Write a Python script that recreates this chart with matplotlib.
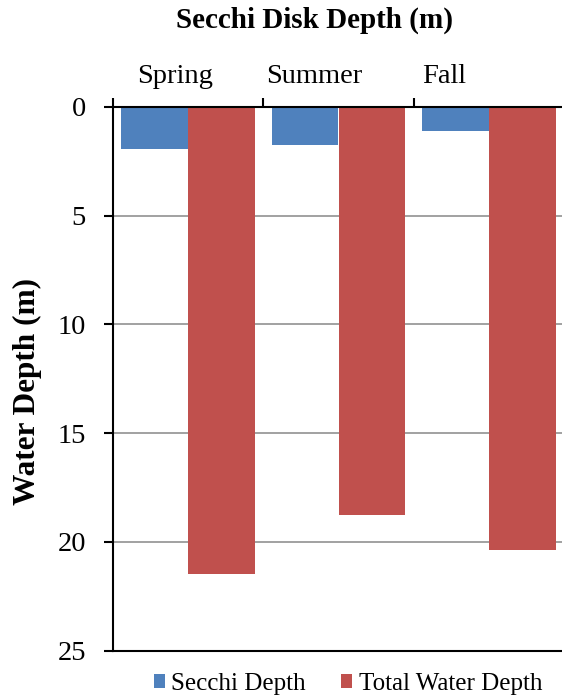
import numpy as np
import matplotlib.pyplot as plt

plt.rcParams['font.family'] = ['Liberation Serif', 'DejaVu Serif']

seasons = ['Spring', 'Summer', 'Fall']
secchi_depth = [1.94, 1.75, 1.12]
total_depth = [21.48, 18.77, 20.37]
# where the season names sit along the top axis (category units)
season_label_x = [-0.09, 0.84, 1.70]

blue = '#4F81BD'
red = '#C0504D'

fig = plt.figure(figsize=(5.62, 7.0), dpi=100)
ax = fig.add_axes([113 / 562, 1 - 650.5 / 700, 451 / 562, 543.5 / 700])

x = np.arange(len(seasons))
w = 0.444
ax.bar(x - w / 2, secchi_depth, width=w, color=blue, label='Secchi Depth', zorder=2)
ax.bar(x + w / 2, total_depth, width=w, color=red, label='Total Water Depth', zorder=2)

ax.set_ylim(25, 0)
ax.set_xlim(-0.5, len(seasons) - 0.5)
ax.set_yticks([0, 5, 10, 15, 20, 25])
ax.tick_params(axis='y', direction='out', length=6.5, width=1.5, labelsize=20.5, pad=13)
ax.yaxis.grid(True, color='#878787', linewidth=1.1, zorder=0)
ax.set_axisbelow(True)

# category axis on top, ticks between the groups
ax.xaxis.set_ticks_position('top')
ax.xaxis.set_label_position('top')
ax.set_xticks(np.arange(-0.5, len(seasons), 1.0))
ax.set_xticklabels([])
ax.set_xticks(season_label_x, minor=True)
ax.set_xticklabels(seasons, minor=True)
ax.tick_params(axis='x', which='major', direction='out', length=6.5, width=1.5)
ax.tick_params(axis='x', which='minor', length=0, labelsize=20.5, pad=13,
               top=True, bottom=False, labeltop=True, labelbottom=False)

for side in ['left', 'top', 'bottom']:
    ax.spines[side].set_linewidth(1.5)
ax.spines['right'].set_visible(False)

ax.set_ylabel('Water Depth (m)', fontsize=22.5, fontweight='bold')
ax.yaxis.set_label_coords(-0.157, 0.476)

fig.text(0.56, 1 - 20 / 700, 'Secchi Disk Depth (m)', fontsize=21, fontweight='bold',
         ha='center', va='center')

fig.legend(loc='center', bbox_to_anchor=(348 / 562, 1 - 684 / 700), ncol=2, frameon=False,
           fontsize=18, handlelength=0.45, handleheight=0.45, handletextpad=0.25,
           columnspacing=1.4)

fig.savefig('out.png', dpi=100)
